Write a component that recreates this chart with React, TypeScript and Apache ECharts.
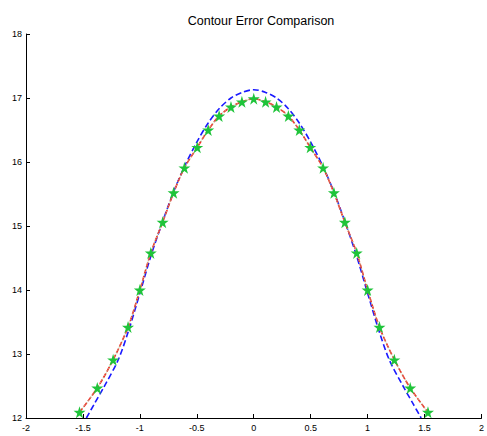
import React, { useEffect, useRef } from "react";
import * as echarts from "echarts";

const titleText = "Contour Error Comparison";

// measured contour (green stars), also followed by the red curve
const starX = [-1.53, -1.374, -1.235, -1.104, -1.0, -0.904, -0.8, -0.704, -0.609, -0.496, -0.4, -0.304, -0.2, -0.104, 0, 0.104, 0.2, 0.304, 0.4, 0.496, 0.609, 0.704, 0.8, 0.904, 1.0, 1.104, 1.235, 1.374, 1.53];
const starY = [12.09, 12.47, 12.91, 13.42, 14.0, 14.58, 15.06, 15.52, 15.91, 16.23, 16.5, 16.72, 16.86, 16.94, 16.99, 16.94, 16.86, 16.72, 16.5, 16.23, 15.91, 15.52, 15.06, 14.58, 14.0, 13.42, 12.91, 12.47, 12.09];

// reference contour (blue)
const blueX = [-1.47, -1.4, -1.32, -1.19, -1.1, -1.0, -0.9, -0.8, -0.7, -0.6, -0.5, -0.4, -0.3, -0.2, -0.1, 0, 0.1, 0.2, 0.3, 0.4, 0.5, 0.6, 0.7, 0.8, 0.9, 1.0, 1.1, 1.19, 1.32, 1.4, 1.47];
const blueY = [12.0, 12.22, 12.47, 12.91, 13.36, 13.95, 14.55, 15.07, 15.55, 15.96, 16.31, 16.61, 16.84, 17.0, 17.09, 17.13, 17.09, 17.0, 16.84, 16.61, 16.31, 15.96, 15.55, 15.07, 14.55, 13.95, 13.36, 12.91, 12.47, 12.22, 12.0];

const xTicks = { min: -2, max: 2, interval: 0.5 };
const yTicks = { min: 12, max: 18, interval: 1 };

export default function App() {
  const ref = useRef<HTMLDivElement>(null);
  useEffect(() => {
    if (!ref.current) return;
    const chart = echarts.init(ref.current, undefined, { renderer: "svg" });
    const pairs = (xs: number[], ys: number[]) => xs.map((x, i) => [x, ys[i]]);
    const axisCommon = {
      axisLine: { show: true, onZero: false, lineStyle: { color: "#000", width: 1 } },
      axisTick: { show: true, inside: true, length: 4, lineStyle: { color: "#000" } },
      splitLine: { show: false },
      axisLabel: { color: "#000", fontSize: 9, fontFamily: "Liberation Sans, Arial, sans-serif" },
    };
    chart.setOption({
      animation: false,
      backgroundColor: "#fff",
      title: {
        text: titleText,
        left: 256,
        textAlign: "center",
        top: 9,
        textStyle: { fontSize: 12.5, fontWeight: "normal", color: "#000", fontFamily: "Liberation Sans, Arial, sans-serif" },
      },
      grid: { left: 26, right: 1, top: 34, bottom: 18, containLabel: false },
      xAxis: {
        type: "value",
        ...xTicks,
        ...axisCommon,
        axisLabel: { ...axisCommon.axisLabel, margin: 5, showMaxLabel: true, showMinLabel: true },
      },
      yAxis: {
        type: "value",
        ...yTicks,
        ...axisCommon,
        axisLabel: { ...axisCommon.axisLabel, margin: 4 },
      },
      series: [
        {
          type: "line",
          data: pairs(blueX, blueY),
          smooth: 0.3,
          showSymbol: false,
          lineStyle: { color: "#1a1aff", width: 1.6, type: [6, 3] },
        },
        {
          type: "line",
          data: pairs(starX, starY),
          smooth: 0.3,
          showSymbol: false,
          lineStyle: { color: "#ff1a1a", width: 1.6, type: [5, 2] },
        },
        {
          type: "line",
          data: pairs(starX, starY),
          smooth: 0.3,
          symbol: "path://M50,0 L61,35 L98,35 L68,57 L79,91 L50,70 L21,91 L32,57 L2,35 L39,35 Z",
          symbolSize: 12,
          itemStyle: { color: "#1fc43a" },
          lineStyle: { color: "#9ad79a", width: 1, type: "dotted" },
        },
      ],
    });
    return () => chart.dispose();
  }, []);
  return <div ref={ref} style={{ position: "fixed", left: 0, top: 0, width: 487, height: 436 }} />;
}
